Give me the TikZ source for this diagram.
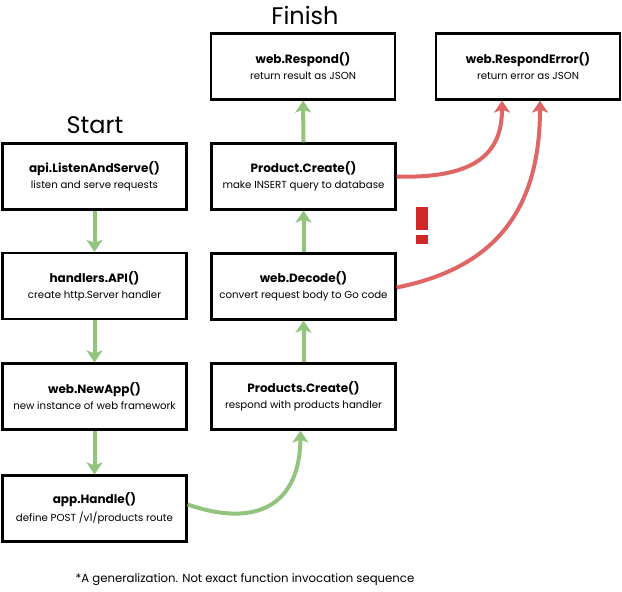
\documentclass[tikz,border=0pt]{standalone}
\usepackage{fontspec}
\setmainfont{Poppins}
\usetikzlibrary{arrows.meta}
\definecolor{flowgreen}{RGB}{147,196,125}
\definecolor{errred}{RGB}{224,102,102}
\definecolor{bangred}{RGB}{208,40,40}
\newcommand{\fbtitle}[1]{{\fontsize{12}{14}\selectfont\bfseries #1}}
\begin{document}
\begin{tikzpicture}[x=1pt,y=-1pt,
  fbox/.style={draw=black,line width=2.2pt,minimum width=184pt,minimum height=66pt,
    align=center,inner sep=0pt,font=\fontsize{10.2}{12}\selectfont},
  okarrow/.style={draw=flowgreen,line width=4pt,
    -{Stealth[length=12pt,width=16pt,inset=3pt]}},
  errarrow/.style={draw=errred,line width=4pt,
    -{Stealth[length=12pt,width=16pt,inset=3pt]}},
  heading/.style={font=\fontsize{24}{28}\selectfont},
  note/.style={font=\fontsize{11.7}{14}\selectfont}
]
\useasboundingbox (0,0) rectangle (622,592);

% titles
\node[heading] (start) at (95,125) {Start};
\node[heading] (finish) at (305,15) {Finish};

% left column
\node[fbox] (ls) at (94.5,176.5) {\fbtitle{api.ListenAndServe()}\\[4pt]listen and serve requests};
\node[fbox] (ha) at (94.5,286) {\fbtitle{handlers.API()}\\[4pt]create http.Server handler};
\node[fbox] (na) at (94.5,396.5) {\fbtitle{web.NewApp()}\\[4pt]new instance of web framework};
\node[fbox] (ah) at (94.5,508.5) {\fbtitle{app.Handle()}\\[4pt]define POST /v1/products route};

% right column
\node[fbox] (wr) at (303,66.5) {\fbtitle{web.Respond()}\\[4pt]return result as JSON};
\node[fbox] (re) at (528,66.5) {\fbtitle{web.RespondError()}\\[4pt]return error as JSON};
\node[fbox] (pc) at (303.5,176.5) {\fbtitle{Product.Create()}\\[4pt]make INSERT query to database};
\node[fbox] (wd) at (303.5,286.5) {\fbtitle{web.Decode()}\\[4pt]convert request body to Go code};
\node[fbox] (psc) at (303.5,396.5) {\fbtitle{Products.Create()}\\[4pt]respond with products handler};

% green flow
\draw[okarrow] (ls) -- (ha);
\draw[okarrow] (ha) -- (na);
\draw[okarrow] (na) -- (ah);
\draw[okarrow] ([yshift=4pt]ah.east) .. controls (262,530) and (300,500) .. ([xshift=-3pt]psc.south);
\draw[okarrow] (psc) -- (wd);
\draw[okarrow] (wd) -- (pc);
\draw[okarrow] (pc) -- (wr);

% error flow
\draw[errarrow] (pc.east) .. controls (480,179) and (502,150) .. ([xshift=-26pt]re.south);
\draw[errarrow] ([yshift=-1pt]wd.east) .. controls (495,268) and (540,210) .. ([xshift=12pt]re.south);

% warning mark
\fill[bangred] (416,207) rectangle (428,230);
\fill[bangred] (416,235) rectangle (428,244);

% footnote
\node[note] (fn) at (245,580) {*A generalization. Not exact function invocation sequence};
\end{tikzpicture}
\end{document}
